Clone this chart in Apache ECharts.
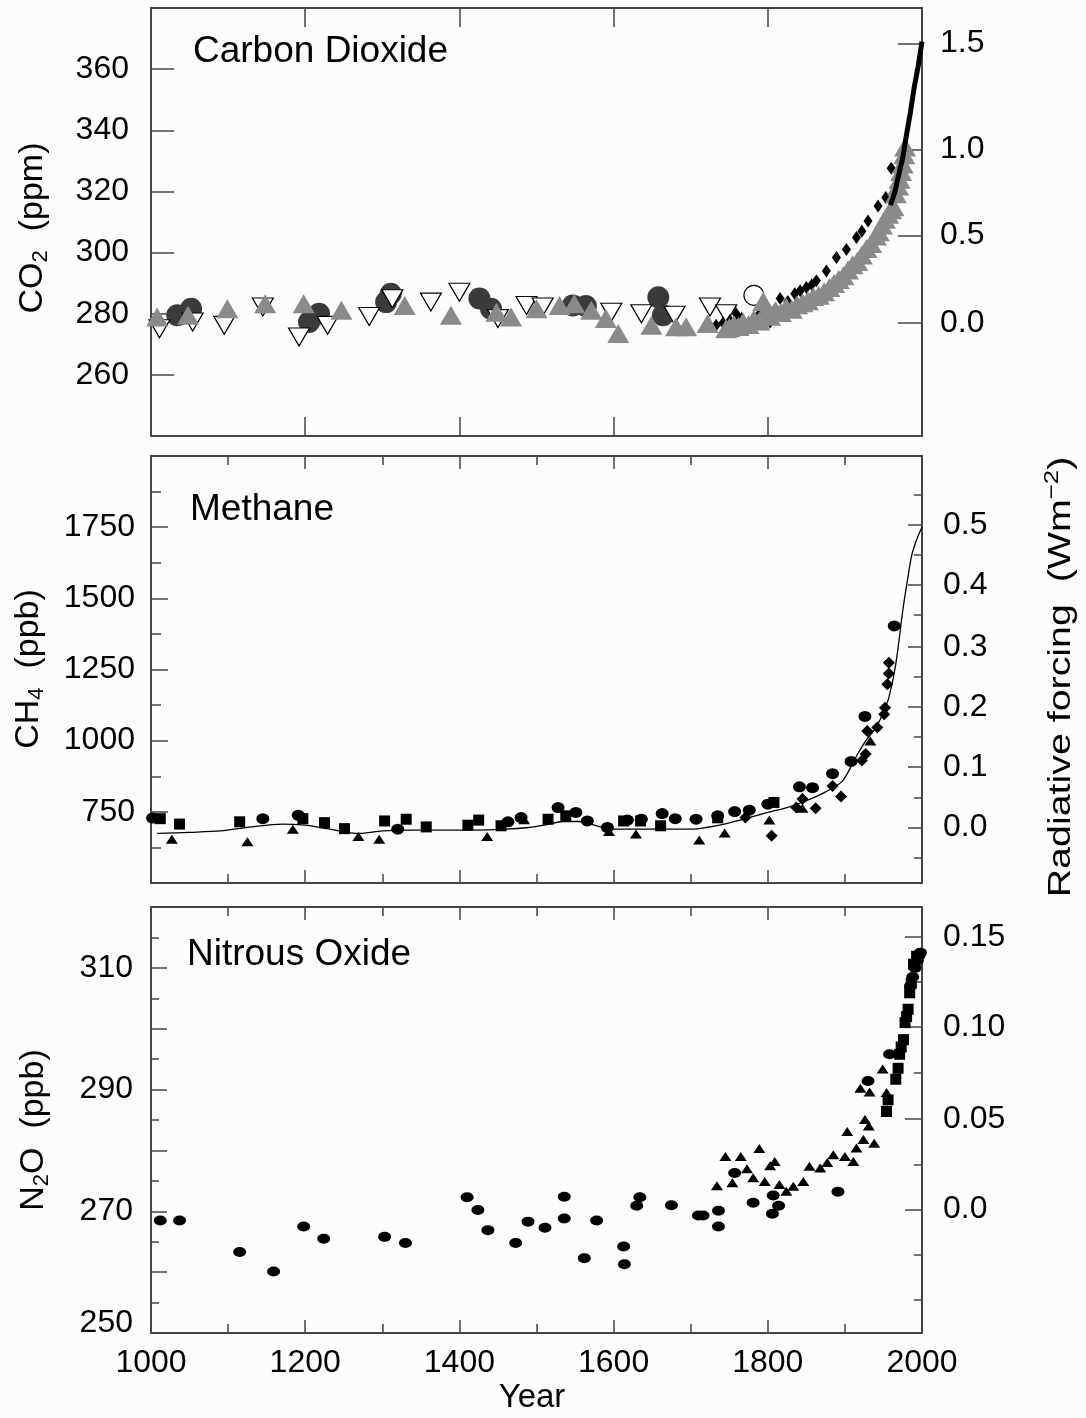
<!DOCTYPE html>
<html>
<head>
<meta charset="utf-8">
<title>CO2, CH4, N2O over the last 1000 years</title>
<script src="https://cdn.jsdelivr.net/npm/echarts@6.0.0/dist/echarts.min.js"></script>
<style>
    body { margin: 0; background: #fdfbfd; }
    #chart { width: 1086px; height: 1418px; }
</style>
</head>
<body>
<div id="chart"></div>
<script>
// ---------- carbon dioxide (ppm) ----------
var co2CircleYears = [1034, 1052, 1205, 1218, 1305, 1311, 1426, 1441, 1547, 1564, 1658, 1664];
var co2CircleVals  = [279.5, 281.6, 277.3, 280.0, 283.8, 286.5, 285.0, 281.6, 282.7, 282.5, 285.4, 279.5];

var co2OpenTriYears = [1011, 1054, 1095, 1145, 1192, 1229, 1283, 1313, 1363, 1400, 1450, 1487, 1508, 1597, 1636, 1679, 1725, 1746];
var co2OpenTriVals  = [275.1, 277.3, 276.2, 282.2, 272.4, 276.2, 279.1, 284.9, 283.8, 287.0, 278.4, 282.7, 282.2, 280.5, 280.0, 279.5, 282.2, 280.0];

var co2OpenCircleYears = [1782];
var co2OpenCircleVals  = [286.0];

var co2BlackYears = [1733, 1742, 1751, 1759, 1766, 1772, 1781, 1788, 1794, 1803, 1810, 1816, 1826, 1835, 1842, 1850, 1857, 1863, 1876, 1889, 1902, 1915, 1922, 1930, 1943, 1953, 1960];
var co2BlackVals  = [276.2, 277.0, 277.8, 280.0, 278.5, 275.5, 278.0, 279.5, 277.8, 277.3, 281.6, 285.0, 284.0, 286.5, 287.5, 288.6, 289.5, 290.8, 294.0, 298.4, 301.0, 304.9, 307.0, 310.3, 315.2, 318.0, 327.6];

var co2GreyTriYears = [1008, 1048, 1099, 1148, 1198, 1247, 1329, 1389, 1448, 1467, 1500, 1530, 1549, 1571, 1590, 1606, 1649, 1681, 1694, 1722, 1746,
    1750, 1756, 1762, 1768, 1775, 1782, 1789, 1794, 1796, 1803, 1810, 1817, 1824, 1831, 1838, 1845, 1852, 1859, 1866, 1873, 1880, 1886, 1892,
    1898, 1904, 1910, 1916, 1922, 1928, 1934, 1940, 1944, 1948, 1952, 1956, 1960, 1963, 1966, 1969, 1971, 1973, 1975, 1977, 1978];
var co2GreyTriVals  = [278.9, 279.5, 281.6, 283.3, 283.3, 281.1, 282.7, 279.5, 280.5, 278.9, 281.6, 282.7, 283.3, 281.1, 278.4, 273.5, 276.2, 275.7, 275.7, 276.8, 275.1,
    275.5, 276.5, 275.8, 277.3, 276.5, 278.2, 277.6, 284.0, 279.8, 279.2, 281.0, 280.4, 282.1, 281.5, 282.9, 283.6, 284.2, 285.6, 286.0, 287.2, 288.6, 289.9, 291.2,
    292.4, 294.3, 296.0, 297.1, 299.2, 301.3, 303.0, 305.4, 306.8, 309.0, 310.9, 312.5, 314.0, 315.0, 319.2, 321.8, 324.0, 326.5, 329.0, 332.0, 334.5];

var co2MloYears = [1959, 1965, 1970, 1975, 1980, 1985, 1990, 1995, 2000];
var co2MloVals  = [315.5, 320.0, 325.7, 331.0, 338.7, 345.9, 354.2, 360.9, 369.0];

// ---------- methane (ppb) ----------
var ch4SquareYears = [1012, 1037, 1115, 1197, 1225, 1251, 1303, 1331, 1357, 1411, 1425, 1454, 1515, 1538, 1613, 1635, 1661, 1735, 1808];
var ch4SquareVals  = [726, 707, 715, 726, 712, 691, 718, 724, 697, 703, 721, 701, 724, 736, 718, 718, 701, 729, 783];

var ch4CircleYears = [1002, 1145, 1191, 1320, 1463, 1480, 1528, 1551, 1566, 1592, 1618, 1636, 1663, 1680, 1707, 1735, 1757, 1776, 1800, 1841, 1858, 1884, 1908, 1926, 1964];
var ch4CircleVals  = [728, 726, 738, 689, 715, 730, 765, 748, 718, 695, 721, 724, 744, 726, 724, 736, 751, 756, 777, 838, 835, 884, 927, 1085, 1403];

var ch4TriYears = [1027, 1125, 1184, 1269, 1296, 1436, 1484, 1594, 1629, 1711, 1744, 1802, 1845, 1933];
var ch4TriVals  = [654, 645, 689, 663, 654, 663, 722, 681, 672, 651, 676, 721, 763, 999];

var ch4DiamondYears = [1771, 1805, 1837, 1845, 1862, 1884, 1895, 1922, 1927, 1929, 1942, 1951, 1952, 1955, 1957, 1957];
var ch4DiamondVals  = [730, 666, 765, 795, 763, 841, 804, 930, 953, 1034, 1046, 1093, 1116, 1198, 1236, 1274];

var ch4FitYears = [1008, 1050, 1090, 1130, 1170, 1200, 1230, 1270, 1300, 1340, 1380, 1420, 1460, 1490, 1510, 1535, 1556, 1575, 1595, 1630, 1665, 1700,
    1720, 1745, 1770, 1800, 1825, 1850, 1875, 1897, 1914, 1927, 1940, 1949, 1957, 1966, 1975, 1981, 1987, 1994, 2000];
var ch4FitVals  = [674, 678, 683, 697, 707, 703, 690, 674, 683, 686, 686, 686, 689, 695, 703, 716, 716, 703, 689, 689, 689, 689,
    695, 708, 725, 748, 765, 789, 820, 859, 941, 999, 1046, 1093, 1151, 1269, 1456, 1561, 1655, 1713, 1750];

// ---------- nitrous oxide (ppb) ----------
var n2oCircleYears = [1012, 1037, 1115, 1159, 1198, 1224, 1303, 1330, 1410, 1424, 1437, 1473, 1489, 1511, 1536, 1536, 1562, 1578, 1613, 1614, 1634, 1630,
    1675, 1710, 1716, 1736, 1736, 1757, 1781, 1807, 1814, 1806, 1891, 1930, 1958, 1985, 1988, 1991, 1994, 1996, 1998];
var n2oCircleVals  = [268.5, 268.5, 263.3, 260.1, 267.5, 265.5, 265.8, 264.8, 272.3, 270.2, 266.9, 264.8, 268.3, 267.3, 272.4, 268.8, 262.3, 268.5, 264.2, 261.3, 272.3, 270.9,
    271.0, 269.3, 269.3, 270.1, 267.5, 276.3, 271.4, 272.6, 270.9, 269.6, 273.2, 291.4, 295.8, 307.0, 308.5, 310.0, 311.2, 312.0, 312.5];

var n2oTriYears = [1734, 1745, 1754, 1765, 1773, 1781, 1789, 1796, 1803, 1809, 1815, 1824, 1833, 1846, 1854, 1868, 1877, 1885, 1900, 1911, 1903,
    1915, 1924, 1926, 1931, 1938, 1920, 1932, 1949, 1954];
var n2oTriVals  = [274.2, 279.0, 274.7, 279.0, 277.0, 275.5, 280.3, 274.9, 277.5, 278.2, 274.4, 273.3, 274.1, 274.9, 277.4, 277.1, 278.0, 279.3, 279.0, 278.2, 283.1,
    280.4, 281.8, 285.1, 284.0, 281.2, 290.2, 289.6, 293.4, 289.5];

var n2oSquareYears = [1954, 1956, 1966, 1969, 1971, 1973, 1976, 1978, 1980, 1982, 1984, 1986, 1989, 1993];
var n2oSquareVals  = [286.4, 288.3, 291.7, 293.5, 295.8, 297.0, 298.2, 301.0, 302.0, 303.2, 305.9, 307.5, 310.6, 311.9];

// ---------- axes: tick values (left, concentration) and forcing labels placed at concentrations ----------
var yearLabels = [1000, 1200, 1400, 1600, 1800, 2000];

var co2Labels = [260, 280, 300, 320, 340, 360];
var co2ForcingLabels = ['0.0', '0.5', '1.0', '1.5'];
var co2ForcingAt = [277.0, 305.6, 333.7, 368.4];

var ch4Labels = [750, 1000, 1250, 1500, 1750];
var ch4MinorTicks = [625, 875, 1125, 1375, 1625, 1875];
var ch4ForcingLabels = ['0.0', '0.1', '0.2', '0.3', '0.4', '0.5'];
var ch4ForcingAt = [695, 908, 1119, 1330, 1546, 1758];
var ch4ForcingMinorAt = [590, 800, 1013, 1225, 1441, 1652, 1865];

var n2oLabels = [250, 270, 290, 310];
var n2oLongTicks = [250, 260, 270, 280, 290, 300, 310];
var n2oMinorTicks = [255, 265, 275, 285, 295, 305, 315];
var n2oForcingLabels = ['0.0', '0.05', '0.10', '0.15'];
var n2oForcingAt = [270.3, 285.2, 300.3, 315.1];
var n2oForcingMinorAt = [255.4, 262.9, 277.7, 292.8, 307.7];

var FONT = '"Liberation Sans", Arial, Helvetica, sans-serif';
var AXIS = '#444';

function zip(xs, ys) {
    var out = [];
    for (var i = 0; i < xs.length; i++) out.push([xs[i], ys[i]]);
    return out;
}

var panels = [
    {grid: {left: 151, top: 8, width: 771, height: 428}, min: 240, max: 380,
     labels: co2Labels, longTicks: co2Labels, minorTicks: [], leftLong: 23, leftShort: 0, leftMargin: 22,
     fLabels: co2ForcingLabels, fAt: co2ForcingAt, fMinor: [], rightLong: 24, rightShort: 0, rightMargin: 18,
     xLong: 19, xMinor: false},
    {grid: {left: 151, top: 456, width: 771, height: 427}, min: 500, max: 2000,
     labels: ch4Labels, longTicks: ch4Labels, minorTicks: ch4MinorTicks, leftLong: 17, leftShort: 10, leftMargin: 16,
     fLabels: ch4ForcingLabels, fAt: ch4ForcingAt, fMinor: ch4ForcingMinorAt, rightLong: 14, rightShort: 8, rightMargin: 21,
     xLong: 13, xMinor: true},
    {grid: {left: 151, top: 907, width: 771, height: 426}, min: 250, max: 320,
     labels: n2oLabels, longTicks: n2oLongTicks, minorTicks: n2oMinorTicks, leftLong: 16, leftShort: 8, leftMargin: 18,
     fLabels: n2oForcingLabels, fAt: n2oForcingAt, fMinor: n2oForcingMinorAt, rightLong: 17, rightShort: 8, rightMargin: 21,
     xLong: 13, xMinor: true}
];

var labelStyle = {fontSize: 32, color: '#000', fontFamily: FONT};
var lineStyle = {color: AXIS, width: 2};

var grids = [], xAxes = [], yAxes = [];
panels.forEach(function (p, i) {
    grids.push(p.grid);
    ['bottom', 'top'].forEach(function (pos) {
        xAxes.push({
            gridIndex: i, type: 'value', position: pos, min: 1000, max: 2000, interval: 200,
            axisLine: {show: true, lineStyle: lineStyle},
            axisTick: {show: true, inside: true, length: p.xLong, lineStyle: {color: AXIS, width: 1.5}},
            minorTick: {show: p.xMinor, splitNumber: 2, length: 9, lineStyle: {color: AXIS, width: 1.5}},
            axisLabel: Object.assign({show: i === 2 && pos === 'bottom', margin: 14, customValues: yearLabels,
                formatter: function (v) { return String(v); }}, labelStyle),
            splitLine: {show: false}
        });
    });
    // left: labels + long ticks, then short ticks
    yAxes.push({
        gridIndex: i, type: 'value', position: 'left', min: p.min, max: p.max,
        axisLine: {show: true, lineStyle: lineStyle},
        axisTick: {show: true, inside: true, length: p.leftLong, customValues: p.longTicks, lineStyle: {color: AXIS, width: 1.5}},
        axisLabel: Object.assign({
            margin: p.leftMargin, customValues: p.labels,
            formatter: function (v) { return v === 250 ? '{u|250}' : String(v); },
            rich: {u: {fontSize: 32, fontFamily: FONT, color: '#000', padding: [0, 0, 20, 0]}}
        }, labelStyle),
        splitLine: {show: false}
    });
    yAxes.push({
        gridIndex: i, type: 'value', position: 'left', min: p.min, max: p.max,
        axisLine: {show: false},
        axisTick: {show: p.minorTicks.length > 0, inside: true, length: p.leftShort, customValues: p.minorTicks, lineStyle: {color: AXIS, width: 1.5}},
        axisLabel: {show: false}, splitLine: {show: false}
    });
    // right: radiative forcing labels + long ticks, then short ticks
    yAxes.push({
        gridIndex: i, type: 'value', position: 'right', min: p.min, max: p.max,
        axisLine: {show: true, lineStyle: lineStyle},
        axisTick: {show: true, inside: true, length: p.rightLong, customValues: p.fAt, lineStyle: {color: AXIS, width: 1.5}},
        axisLabel: Object.assign({
            margin: p.rightMargin, customValues: p.fAt,
            formatter: (function (at, labs) {
                return function (v) { var k = at.indexOf(v); return k < 0 ? '' : labs[k]; };
            })(p.fAt, p.fLabels)
        }, labelStyle),
        splitLine: {show: false}
    });
    yAxes.push({
        gridIndex: i, type: 'value', position: 'right', min: p.min, max: p.max,
        axisLine: {show: false},
        axisTick: {show: p.fMinor.length > 0, inside: true, length: p.rightShort, customValues: p.fMinor, lineStyle: {color: AXIS, width: 1.5}},
        axisLabel: {show: false}, splitLine: {show: false}
    });
});

function scatter(panel, data, symbol, size, style, extra) {
    return Object.assign({
        type: 'scatter', xAxisIndex: panel * 2, yAxisIndex: panel * 4,
        data: data, symbol: symbol, symbolSize: size, itemStyle: Object.assign({opacity: 1}, style), silent: true
    }, extra || {});
}

var series = [
    // carbon dioxide
    scatter(0, zip(co2CircleYears, co2CircleVals), 'circle', 22, {color: '#3b3b3b'}),
    scatter(0, zip(co2OpenTriYears, co2OpenTriVals), 'triangle', [21, 18], {color: '#fff', borderColor: '#000', borderWidth: 1.2}, {symbolRotate: 180}),
    scatter(0, zip(co2OpenCircleYears, co2OpenCircleVals), 'circle', 20, {color: '#fff', borderColor: '#000', borderWidth: 1.2}),
    scatter(0, zip(co2BlackYears, co2BlackVals), 'diamond', [9, 13], {color: '#000'}),
    scatter(0, zip(co2GreyTriYears, co2GreyTriVals), 'triangle', [22, 19], {color: '#8a8a8a'}),
    {type: 'line', xAxisIndex: 0, yAxisIndex: 0, data: zip(co2MloYears, co2MloVals), showSymbol: false, silent: true,
     lineStyle: {color: '#000', width: 5}},
    // methane
    {type: 'line', xAxisIndex: 2, yAxisIndex: 4, data: zip(ch4FitYears, ch4FitVals), showSymbol: false, smooth: 0.3, silent: true,
     lineStyle: {color: '#000', width: 1.3}},
    scatter(1, zip(ch4SquareYears, ch4SquareVals), 'rect', 11, {color: '#000'}),
    scatter(1, zip(ch4CircleYears, ch4CircleVals), 'circle', [13, 11], {color: '#000'}),
    scatter(1, zip(ch4TriYears, ch4TriVals), 'triangle', [12, 9], {color: '#000'}),
    scatter(1, zip(ch4DiamondYears, ch4DiamondVals), 'diamond', [12, 12], {color: '#000'}),
    // nitrous oxide
    scatter(2, zip(n2oCircleYears, n2oCircleVals), 'circle', [13, 10], {color: '#000'}),
    scatter(2, zip(n2oTriYears, n2oTriVals), 'triangle', [12, 9], {color: '#000'}),
    scatter(2, zip(n2oSquareYears, n2oSquareVals), 'rect', 11, {color: '#000'})
];

function plainText(x, y, text, size, align) {
    return {type: 'text', x: x, y: y, silent: true,
        style: {text: text, fontSize: size, fontFamily: FONT, fill: '#000', align: align || 'left', verticalAlign: 'middle'}};
}
function sideName(x, y, text, rich, scale) {
    return {type: 'text', x: x, y: y, rotation: Math.PI / 2, scaleX: scale || 1, silent: true,
        style: {text: text, rich: rich, fontSize: 34, fontFamily: FONT, fill: '#000', align: 'center', verticalAlign: 'middle'}};
}
var subRich = {
    m: {fontSize: 34, fontFamily: FONT, fill: '#000'},
    s: {fontSize: 22, fontFamily: FONT, fill: '#000', padding: [16, 0, 0, 0]}
};
var supRich = {
    m: {fontSize: 32, fontFamily: FONT, fill: '#000'},
    p: {fontSize: 21, fontFamily: FONT, fill: '#000', padding: [0, 0, 18, 0]}
};

var graphics = [
    plainText(193, 52, 'Carbon Dioxide', 37),
    plainText(190, 510, 'Methane', 37),
    plainText(187, 955, 'Nitrous Oxide', 37),
    plainText(532, 1398, 'Year', 33, 'center'),
    sideName(33, 228, '{m|CO}{s|2}{m|  (ppm)}', subRich),
    sideName(29, 669, '{m|CH}{s|4}{m|  (ppb)}', subRich),
    sideName(34, 1130, '{m|N}{s|2}{m|O  (ppb)}', subRich),
    sideName(1061, 677, '{m|Radiative forcing  (Wm}{p|\u22122}{m|)}', supRich, 1.23)
];

var myChart = echarts.init(document.getElementById('chart'), null, {renderer: 'canvas'});
myChart.setOption({
    backgroundColor: '#fdfbfd',
    animation: false,
    grid: grids,
    xAxis: xAxes,
    yAxis: yAxes,
    series: series,
    graphic: graphics
});
</script>
</body>
</html>
